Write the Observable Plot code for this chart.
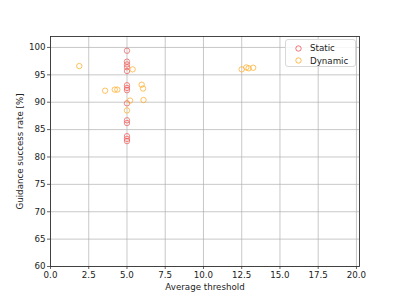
<!DOCTYPE html>
<html>
<head>
<meta charset="utf-8">
<script src="https://cdn.jsdelivr.net/npm/d3@7"></script>
<script src="https://cdn.jsdelivr.net/npm/@observablehq/plot@0.6"></script>
<style>
  html, body { margin: 0; padding: 0; background: #fff; }
  #wrap { position: relative; width: 399px; height: 299px; }
  #legend {
    position: absolute; left: 285px; top: 39px; width: 71px; height: 28px;
    border: 1px solid #d8d8d8; border-radius: 3px; background: rgba(255,255,255,0.85);
    font: 8.7px "DejaVu Sans", sans-serif; color: #222; box-sizing: border-box;
  }
  .item { position: absolute; left: 0; height: 10px; display: flex; align-items: center; }
  .item svg { margin-left: 9px; margin-right: 8px; }
</style>
</head>
<body>
<div id="wrap"></div>
<script>
const seriesNames = ["Static", "Dynamic"];
const seriesColors = ["#f05050", "#ffaa22"];

const staticX = [5, 5, 5, 5, 5, 5, 5, 5, 5, 5, 5, 5, 5, 5];
const staticY = [99.4, 97.4, 96.9, 96.4, 95.7, 93.1, 92.6, 92.2, 89.8, 86.7, 86.2, 83.8, 83.3, 82.9];

const dynamicX = [1.88, 3.57, 4.2, 4.37, 5.0, 5.2, 5.37, 5.96, 6.05, 6.08, 12.5, 12.8, 12.95, 13.25];
const dynamicY = [96.6, 92.1, 92.3, 92.3, 88.5, 90.3, 96.0, 93.2, 92.5, 90.4, 96.0, 96.35, 96.2, 96.3];

const xTicks = [0, 2.5, 5, 7.5, 10, 12.5, 15, 17.5, 20];
const yTicks = [60, 65, 70, 75, 80, 85, 90, 95, 100];

const staticData = staticX.map((x, i) => ({x, y: staticY[i]}));
const dynamicData = dynamicX.map((x, i) => ({x, y: dynamicY[i]}));

const lw = 0.7;
const chart = Plot.plot({
  width: 399,
  height: 299,
  marginLeft: 50,
  marginRight: 40,
  marginTop: 36,
  marginBottom: 33,
  style: {fontFamily: "'DejaVu Sans', sans-serif", fontSize: "8.7px", color: "#222", background: "#fff"},
  x: {domain: [0, 20.2]},
  y: {domain: [60, 102]},
  marks: [
    Plot.gridX(xTicks, {stroke: "#b0b0b0", strokeOpacity: 1, strokeWidth: lw}),
    Plot.gridY(yTicks, {stroke: "#b0b0b0", strokeOpacity: 1, strokeWidth: lw}),
    Plot.axisX(xTicks, {tickFormat: d3.format(".1f"), tickSize: 3, tickPadding: 2, strokeWidth: lw,
      label: "Average threshold", labelAnchor: "center", labelArrow: "none", labelOffset: 23}),
    Plot.axisY(yTicks, {tickSize: 3, tickPadding: 2, strokeWidth: lw,
      label: "Guidance success rate [%]", labelAnchor: "center", labelArrow: "none", labelOffset: 34}),
    Plot.dot(staticData, {x: "x", y: "y", r: 2.7, stroke: seriesColors[0], strokeWidth: 0.8, fill: "none", strokeOpacity: 0.85}),
    Plot.dot(dynamicData, {x: "x", y: "y", r: 2.7, stroke: seriesColors[1], strokeWidth: 0.8, fill: "none", strokeOpacity: 0.9}),
    Plot.frame({stroke: "#333", strokeWidth: 0.9})
  ]
});

const wrap = document.getElementById("wrap");
wrap.appendChild(chart);

const legend = document.createElement("div");
legend.id = "legend";
seriesNames.forEach((name, i) => {
  const item = document.createElement("div");
  item.className = "item";
  item.style.top = (3 + i * 12.5) + "px";
  item.innerHTML = `<svg width="7" height="7"><circle cx="3.5" cy="3.5" r="2.7" fill="none" stroke="${seriesColors[i]}" stroke-width="0.8"/></svg><span>${name}</span>`;
  legend.appendChild(item);
});
wrap.appendChild(legend);
</script>
</body>
</html>
